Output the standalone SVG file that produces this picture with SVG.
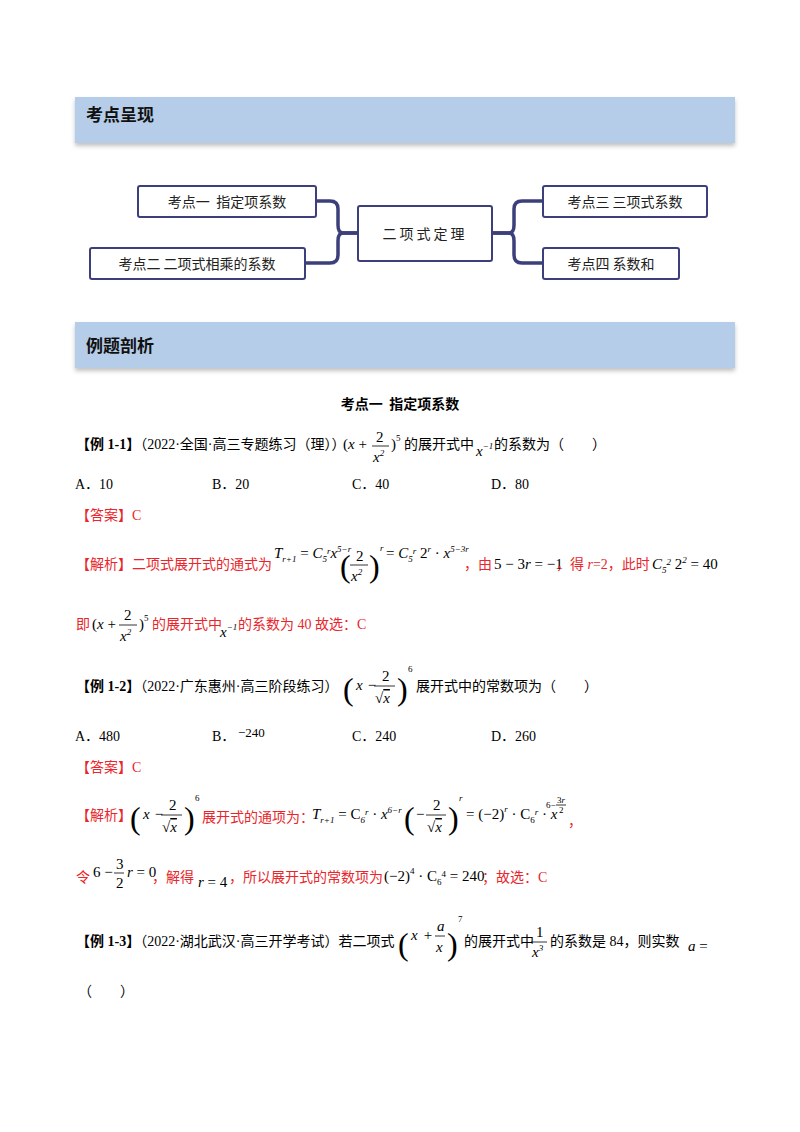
<svg xmlns="http://www.w3.org/2000/svg" width="800" height="1132" viewBox="0 0 800 1132">
<defs>
<filter id="sh" x="-5%" y="-20%" width="110%" height="150%"><feDropShadow dx="0" dy="3" stdDeviation="2" flood-color="#999" flood-opacity="0.6"/></filter>
</defs>
<style>
text{white-space:pre}
.cn{font-family:"Liberation Serif","Noto Sans CJK SC",serif;font-size:14px;fill:#000}
.r{fill:#e8262b}
.m{font-family:"Liberation Serif",serif;font-size:15px;fill:#000;font-style:italic}
.mn{font-family:"Liberation Serif",serif;font-size:15px;fill:#000;font-style:normal}
.s{font-size:9px}
.p{font-family:"Liberation Serif",serif;font-size:32px;fill:#000;font-weight:lighter}
.hd{font-family:"Noto Sans CJK SC",sans-serif;font-size:17px;font-weight:bold;fill:#111}
.nb{fill:#fff;stroke:#3d3f7a;stroke-width:2}
.nt{font-family:"Noto Sans CJK SC",sans-serif;font-size:14px;fill:#222;text-anchor:middle}
.ln{fill:none;stroke:#3d3f7a;stroke-width:3.5}
.fl{stroke:#000;stroke-width:0.8}
</style>
<rect width="800" height="1132" fill="#fff"/>
<g id="bar1"><rect x="75" y="97" width="660" height="46" fill="#b5cde8" filter="url(#sh)"/><text class="hd" x="86" y="121">考点呈现</text></g>
<g id="bar2"><rect x="75" y="322" width="660" height="46" fill="#b5cde8" filter="url(#sh)"/><text class="hd" x="86" y="352">例题剖析</text></g>
<g id="connectors">
<path class="ln" d="M358 233 H343 Q338 233 338 225 V209 Q338 201 330 201 H316"/>
<path class="ln" d="M358 233 H343 Q338 233 338 241 V255 Q338 263 330 263 H305"/>
<path class="ln" d="M492 233 H509 Q514 233 514 225 V209 Q514 201 522 201 H543"/>
<path class="ln" d="M492 233 H509 Q514 233 514 241 V255 Q514 263 522 263 H543"/>
</g>
<g id="center"><rect class="nb" x="358" y="206" width="134" height="55" rx="2" stroke-width="4"/><text class="nt" x="425" y="239" font-size="15" letter-spacing="3">二项式定理</text></g>
<g id="n1"><rect class="nb" x="138" y="186" width="178" height="31" rx="2"/><text class="nt" x="227" y="207">考点一  指定项系数</text></g>
<g id="n2"><rect class="nb" x="90" y="248" width="215" height="31" rx="2"/><text class="nt" x="197" y="269">考点二 二项式相乘的系数</text></g>
<g id="n3"><rect class="nb" x="543" y="186" width="164" height="31" rx="2"/><text class="nt" x="625" y="207">考点三 三项式系数</text></g>
<g id="n4"><rect class="nb" x="543" y="248" width="136" height="31" rx="2"/><text class="nt" x="611" y="269">考点四 系数和</text></g>

<text class="cn" x="400" y="409" text-anchor="middle" font-weight="bold" style="font-family:'Noto Sans CJK SC',sans-serif">考点一  指定项系数</text>

<text class="cn" x="76" y="449"><tspan font-weight="bold">【例 1-1】</tspan>（2022·全国·高三专题练习（理））</text>
<text class="mn" x="343" y="449">(<tspan class="m">x</tspan> +</text><text class="mn" x="376" y="442">2</text><line class="fl" x1="372" y1="446" x2="389" y2="446"/><text class="m" x="373" y="462">x<tspan class="s" dy="-6">2</tspan></text><text class="mn" x="391" y="449">)<tspan class="s" dy="-8">5</tspan></text>
<text class="cn" x="404" y="449">的展开式中</text><text class="m" x="476" y="456">x<tspan class="s" dy="-7">−1</tspan></text><text class="cn" x="494" y="449">的系数为（　　）</text>

<text class="cn" x="75" y="489">A．10</text><text class="cn" x="212" y="489">B．20</text><text class="cn" x="352" y="489">C．40</text><text class="cn" x="491" y="489">D．80</text>
<text class="cn r" x="76" y="520">【答案】C</text>

<text class="cn r" x="76" y="569">【解析】二项式展开式的通式为</text>
<text class="m" x="274" y="558">T<tspan class="s" dy="4">r+1</tspan><tspan class="mn" dy="-4"> = </tspan>C<tspan class="s" dy="4">5</tspan><tspan class="s" dy="-8">r</tspan><tspan dy="4">x</tspan><tspan class="s" dy="-6">5−r</tspan></text>
<text class="p" x="340" y="577">(</text>
<text class="mn" x="356" y="561">2</text><line class="fl" x1="350" y1="565" x2="368" y2="565"/><text class="m" x="351" y="581">x<tspan class="s" dy="-6">2</tspan></text>
<text class="p" x="369" y="577">)</text><text class="m s" x="380" y="551">r</text>
<text class="m" x="386" y="558"><tspan class="mn">= </tspan>C<tspan class="s" dy="4">5</tspan><tspan class="s" dy="-8">r</tspan><tspan class="mn" dy="4"> 2</tspan><tspan class="s" dy="-6">r</tspan><tspan class="mn" dy="6"> · </tspan>x<tspan class="s" dy="-6">5−3r</tspan></text>
<text class="cn r" x="464" y="569">，由</text><text class="mn" x="494" y="569">5 − 3<tspan class="m">r</tspan> = −1</text>
<text class="cn r" x="556" y="569">，得 <tspan style="font-style:italic">r</tspan>=2，此时</text>
<text class="m" x="652" y="569">C<tspan class="s" dy="4">5</tspan><tspan class="s" dy="-8">2</tspan><tspan class="mn" dy="4"> 2</tspan><tspan class="s" dy="-6">2</tspan><tspan class="mn" dy="6"> = 40</tspan></text>

<text class="cn r" x="76" y="629">即</text>
<text class="mn" x="92" y="629">(<tspan class="m">x</tspan> +</text><text class="mn" x="124" y="620">2</text><line class="fl" x1="119" y1="625" x2="137" y2="625"/><text class="m" x="120" y="641">x<tspan class="s" dy="-6">2</tspan></text><text class="mn" x="139" y="629">)<tspan class="s" dy="-8">5</tspan></text>
<text class="cn r" x="152" y="629">的展开式中</text><text class="m" x="220" y="637">x<tspan class="s" dy="-7">−1</tspan></text><text class="cn r" x="238" y="629">的系数为 40 故选：C</text>

<text class="cn" x="76" y="691"><tspan font-weight="bold">【例 1-2】</tspan>（2022·广东惠州·高三阶段练习）</text>
<text class="p" x="343" y="700">(</text><text class="m" x="356" y="690">x</text><text class="mn" x="364" y="690"> −</text><text class="mn" x="382" y="681">2</text><line class="fl" x1="374" y1="686" x2="395" y2="686"/><text class="mn" x="375" y="703">√<tspan class="m" text-decoration="overline">x</tspan></text><text class="p" x="397" y="700">)</text><text class="mn s" x="408" y="672">6</text>
<text class="cn" x="416" y="691">展开式中的常数项为（　　）</text>

<text class="cn" x="75" y="741">A．480</text><text class="cn" x="212" y="741">B．</text><text class="mn" x="238" y="737" style="font-size:13px">−240</text><text class="cn" x="352" y="741">C．240</text><text class="cn" x="491" y="741">D．260</text>
<text class="cn r" x="76" y="772">【答案】C</text>

<text class="cn r" x="76" y="820">【解析】</text>
<text class="p" x="130" y="829">(</text><text class="m" x="143" y="819">x</text><text class="mn" x="151" y="819"> −</text><text class="mn" x="169" y="810">2</text><line class="fl" x1="161" y1="815" x2="182" y2="815"/><text class="mn" x="162" y="832">√<tspan class="m" text-decoration="overline">x</tspan></text><text class="p" x="184" y="829">)</text><text class="mn s" x="195" y="801">6</text>
<text class="cn r" x="202" y="822">展开式的通项为：</text>
<text class="m" x="312" y="819">T<tspan class="s" dy="4">r+1</tspan><tspan class="mn" dy="-4"> = C</tspan><tspan class="s" dy="4">6</tspan><tspan class="s" dy="-8">r</tspan><tspan class="mn" dy="4"> · </tspan>x<tspan class="s" dy="-6">6−r</tspan><tspan class="mn" dy="6"> ·</tspan></text>
<text class="p" x="404" y="829">(</text><text class="mn" x="416" y="819">−</text><text class="mn" x="433" y="810">2</text><line class="fl" x1="426" y1="815" x2="446" y2="815"/><text class="mn" x="427" y="832">√<tspan class="m" text-decoration="overline">x</tspan></text><text class="p" x="448" y="829">)</text><text class="m s" x="459" y="801">r</text>
<text class="mn" x="466" y="819">= (−2)<tspan class="m s" dy="-7">r</tspan><tspan dy="7"> · C</tspan><tspan class="s" dy="4">6</tspan><tspan class="m s" dy="-8">r</tspan><tspan dy="4"> · </tspan><tspan class="m">x</tspan></text>
<text class="mn s" x="546" y="808">6−</text><text class="mn s" x="557" y="803">3<tspan class="m s">r</tspan></text><line class="fl" x1="556" y1="805" x2="566" y2="805"/><text class="mn s" x="559" y="813">2</text>
<text class="cn r" x="568" y="826">，</text>

<text class="cn r" x="76" y="882">令</text>
<text class="mn" x="93" y="877">6 −</text><text class="mn" x="116" y="869">3</text><line class="fl" x1="114" y1="873" x2="124" y2="873"/><text class="mn" x="116" y="888">2</text><text class="mn" x="127" y="877"><tspan class="m">r</tspan> = 0</text>
<text class="cn r" x="152" y="882">，解得</text><text class="mn" x="198" y="887"><tspan class="m">r</tspan> = 4</text>
<text class="cn r" x="229" y="882">，所以展开式的常数项为</text>
<text class="mn" x="384" y="881">(−2)<tspan class="s" dy="-7">4</tspan><tspan dy="7"> · C</tspan><tspan class="s" dy="4">6</tspan><tspan class="s" dy="-8">4</tspan><tspan dy="4"> = 240</tspan></text>
<text class="cn r" x="482" y="882">；故选：C</text>

<text class="cn" x="76" y="946"><tspan font-weight="bold">【例 1-3】</tspan>（2022·湖北武汉·高三开学考试）若二项式</text>
<text class="p" x="398" y="955">(</text><text class="m" x="411" y="940">x</text><text class="mn" x="420" y="940"> +</text><text class="m" x="437" y="931">a</text><line class="fl" x1="435" y1="936" x2="445" y2="936"/><text class="m" x="436" y="952">x</text><text class="p" x="447" y="955">)</text><text class="mn s" x="458" y="922">7</text>
<text class="cn" x="464" y="946">的展开式中</text><text class="mn" x="536" y="937">1</text><line class="fl" x1="531" y1="942" x2="547" y2="942"/><text class="m" x="532" y="957">x<tspan class="s" dy="-6">3</tspan></text>
<text class="cn" x="550" y="946">的系数是 84，则实数</text><text class="m" x="688" y="951">a <tspan class="mn">=</tspan></text>

<text class="cn" x="78" y="996">（　　）</text>
</svg>
